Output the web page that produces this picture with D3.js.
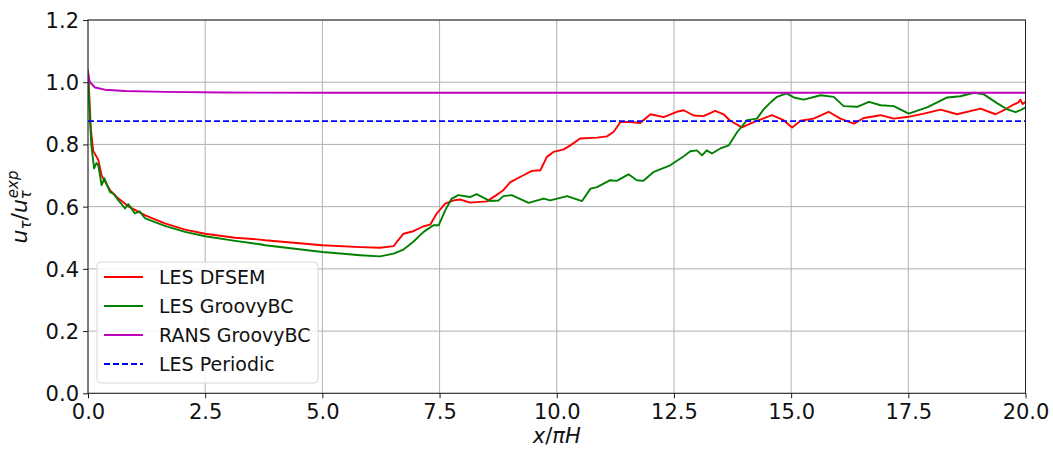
<!DOCTYPE html>
<html>
<head>
<meta charset="utf-8">
<script src="https://cdn.jsdelivr.net/npm/d3@7"></script>
<style>
  html, body { margin: 0; padding: 0; background: #fff; }
  svg { display: block; font-family: "DejaVu Sans", sans-serif; }
</style>
</head>
<body>
<svg id="chart" width="1053" height="450"></svg>
<script>
// ---------- data ----------
const dfsemX = [0, 0.03, 0.06, 0.11, 0.22, 0.29, 0.47, 0.65, 0.86, 1.22, 1.64, 2.07, 2.5, 3.14, 3.67, 3.78, 5.0, 5.81, 6.23, 6.52, 6.59, 6.73, 6.94, 7.16, 7.30, 7.44, 7.62, 7.80, 7.94, 8.15, 8.51, 8.76, 8.86, 9.01, 9.29, 9.47, 9.65, 9.79, 9.93, 10.15, 10.29, 10.50, 10.86, 11.07, 11.21, 11.36, 11.57, 11.78, 12.0, 12.28, 12.56, 12.71, 12.92, 13.13, 13.38, 13.56, 13.70, 13.95, 14.2, 14.59, 14.84, 15.02, 15.2, 15.48, 15.80, 16.05, 16.34, 16.55, 16.91, 17.19, 17.47, 17.83, 18.19, 18.54, 19.04, 19.36, 19.54, 19.72, 19.85, 19.89, 19.94, 20];
const dfsemY = [1.04, 0.95, 0.85, 0.78, 0.75, 0.70, 0.653, 0.626, 0.601, 0.572, 0.546, 0.526, 0.513, 0.50, 0.494, 0.492, 0.476, 0.470, 0.468, 0.473, 0.487, 0.513, 0.521, 0.537, 0.542, 0.578, 0.61, 0.62, 0.623, 0.613, 0.617, 0.642, 0.653, 0.679, 0.701, 0.715, 0.717, 0.76, 0.776, 0.784, 0.797, 0.819, 0.822, 0.826, 0.84, 0.872, 0.872, 0.869, 0.897, 0.888, 0.905, 0.91, 0.893, 0.891, 0.908, 0.897, 0.876, 0.855, 0.872, 0.894, 0.878, 0.854, 0.876, 0.883, 0.905, 0.883, 0.867, 0.885, 0.894, 0.883, 0.888, 0.899, 0.912, 0.897, 0.915, 0.897, 0.91, 0.926, 0.935, 0.944, 0.93, 0.937];

const groovyX = [0, 0.03, 0.07, 0.13, 0.18, 0.22, 0.29, 0.35, 0.47, 0.55, 0.65, 0.79, 0.86, 1.0, 1.1, 1.22, 1.64, 2.07, 2.5, 3.14, 3.67, 3.78, 5.0, 5.81, 6.23, 6.52, 6.73, 6.94, 7.16, 7.37, 7.48, 7.62, 7.76, 7.90, 8.15, 8.29, 8.58, 8.76, 8.86, 9.04, 9.40, 9.72, 9.86, 10.22, 10.54, 10.72, 10.86, 11.14, 11.28, 11.53, 11.71, 11.85, 12.07, 12.42, 12.71, 12.85, 12.99, 13.10, 13.20, 13.31, 13.49, 13.67, 13.85, 14.06, 14.27, 14.41, 14.56, 14.70, 14.90, 15.06, 15.27, 15.63, 15.91, 16.12, 16.41, 16.66, 16.91, 17.19, 17.51, 17.90, 18.33, 18.61, 18.90, 19.11, 19.40, 19.61, 19.79, 19.89, 20];
const groovyY = [1.04, 0.92, 0.80, 0.723, 0.74, 0.733, 0.669, 0.691, 0.647, 0.64, 0.62, 0.594, 0.608, 0.578, 0.585, 0.562, 0.538, 0.519, 0.505, 0.49, 0.479, 0.476, 0.454, 0.444, 0.440, 0.449, 0.462, 0.487, 0.519, 0.54, 0.54, 0.588, 0.626, 0.637, 0.631, 0.64, 0.618, 0.62, 0.634, 0.637, 0.612, 0.626, 0.62, 0.634, 0.618, 0.658, 0.663, 0.685, 0.683, 0.704, 0.685, 0.683, 0.712, 0.733, 0.762, 0.778, 0.781, 0.765, 0.781, 0.771, 0.787, 0.797, 0.84, 0.878, 0.883, 0.912, 0.935, 0.953, 0.964, 0.951, 0.944, 0.958, 0.953, 0.923, 0.921, 0.937, 0.926, 0.923, 0.899, 0.919, 0.951, 0.955, 0.966, 0.961, 0.932, 0.913, 0.904, 0.91, 0.919];

const ransX = [0, 0.04, 0.15, 0.36, 0.79, 1.64, 2.92, 5, 10, 15, 20];
const ransY = [1.03, 1.0, 0.983, 0.976, 0.972, 0.969, 0.967, 0.966, 0.966, 0.966, 0.966];

const periodicX = [0, 20];
const periodicY = [0.875, 0.875];

const seriesNames = ["LES DFSEM", "LES GroovyBC", "RANS GroovyBC", "LES Periodic"];
const xTicks = [0, 2.5, 5, 7.5, 10, 12.5, 15, 17.5, 20];
const yTicks = [0, 0.2, 0.4, 0.6, 0.8, 1.0, 1.2];

// ---------- layout ----------
const L = 88, T = 20, R = 1025.5, B = 393.3;
const svg = d3.select("#chart");
const x = d3.scaleLinear().domain([0, 20]).range([L, R]);
const y = d3.scaleLinear().domain([0, 1.2]).range([B, T]);

// grid
const grid = svg.append("g");
grid.selectAll("line.gx").data(xTicks).join("line")
  .attr("x1", d => x(d)).attr("x2", d => x(d)).attr("y1", T).attr("y2", B)
  .attr("stroke", "#b0b0b0").attr("stroke-width", 1);
grid.selectAll("line.gy").data(yTicks).join("line")
  .attr("y1", d => y(d)).attr("y2", d => y(d)).attr("x1", L).attr("x2", R)
  .attr("stroke", "#b0b0b0").attr("stroke-width", 1);

// series
const series = [
  { name: seriesNames[0], xs: dfsemX, ys: dfsemY, color: "#ff0000", dash: null },
  { name: seriesNames[1], xs: groovyX, ys: groovyY, color: "#008000", dash: null },
  { name: seriesNames[2], xs: ransX, ys: ransY, color: "#bf00bf", dash: null },
  { name: seriesNames[3], xs: periodicX, ys: periodicY, color: "#0000ff", dash: "6,3" }
];
const line = d3.line().x(d => x(d[0])).y(d => y(d[1]));
svg.append("clipPath").attr("id", "clip").append("rect")
  .attr("x", L).attr("y", T).attr("width", R - L).attr("height", B - T);
const lines = svg.append("g").attr("clip-path", "url(#clip)");
series.forEach(s => {
  lines.append("path")
    .attr("d", line(s.xs.map((v, i) => [v, s.ys[i]])))
    .attr("fill", "none").attr("stroke", s.color).attr("stroke-width", 1.9)
    .attr("stroke-linejoin", "round")
    .attr("stroke-dasharray", s.dash);
});

// axes
const xAxis = d3.axisBottom(x).tickValues(xTicks).tickFormat(d3.format(".1f")).tickSize(5).tickPadding(4);
const yAxis = d3.axisLeft(y).tickValues(yTicks).tickFormat(d3.format(".1f")).tickSize(5).tickPadding(4);
const gx = svg.append("g").attr("transform", `translate(0,${B})`).call(xAxis);
const gy = svg.append("g").attr("transform", `translate(${L},0)`).call(yAxis);
[gx, gy].forEach(g => {
  g.select(".domain").remove();
  g.selectAll(".tick line").attr("stroke", "#000").attr("stroke-width", 0.9);
  g.selectAll(".tick text").attr("fill", "#111").style("font-size", "21px").style("font-family", "DejaVu Sans");
});
gx.selectAll(".tick text").attr("dy", "0.78em");
gy.selectAll(".tick text").attr("dy", "0.36em");

// frame
svg.append("rect").attr("x", L).attr("y", T).attr("width", R - L).attr("height", B - T)
  .attr("fill", "none").attr("stroke", "#222").attr("stroke-width", 1);

// x label
const xl = svg.append("text").attr("x", (L + R) / 2).attr("y", 443)
  .attr("text-anchor", "middle").style("font-size", "21px").attr("fill", "#111");
xl.append("tspan").style("font-style", "italic").text("x");
xl.append("tspan").text("/");
xl.append("tspan").style("font-style", "italic").text("πH");

// y label
const yl = svg.append("text")
  .attr("transform", "translate(27,207) rotate(-90)")
  .attr("text-anchor", "middle").style("font-size", "22px").attr("fill", "#111");
yl.append("tspan").style("font-style", "italic").text("u");
yl.append("tspan").style("font-style", "italic").style("font-size", "15px").attr("dy", 4).text("τ");
yl.append("tspan").attr("dy", -4).text("/");
yl.append("tspan").style("font-style", "italic").text("u");
yl.append("tspan").style("font-style", "italic").style("font-size", "15px").attr("dy", 4).text("τ");
yl.append("tspan").style("font-style", "italic").style("font-size", "15px").attr("dx", -8).attr("dy", -13).text("exp");

// legend
const lg = svg.append("g");
lg.append("rect").attr("x", 97).attr("y", 262).attr("width", 221).attr("height", 121)
  .attr("rx", 4).attr("fill", "#fff").attr("fill-opacity", 0.85)
  .attr("stroke", "#d6d6d6").attr("stroke-width", 1);
series.forEach((s, i) => {
  const yy = 277 + i * 29;
  lg.append("line").attr("x1", 104).attr("x2", 143).attr("y1", yy).attr("y2", yy)
    .attr("stroke", s.color).attr("stroke-width", 1.9).attr("stroke-dasharray", s.dash);
  lg.append("text").attr("x", 159).attr("y", yy).attr("dy", "0.36em")
    .style("font-size", "19px").attr("fill", "#111").text(s.name);
});
</script>
</body>
</html>
